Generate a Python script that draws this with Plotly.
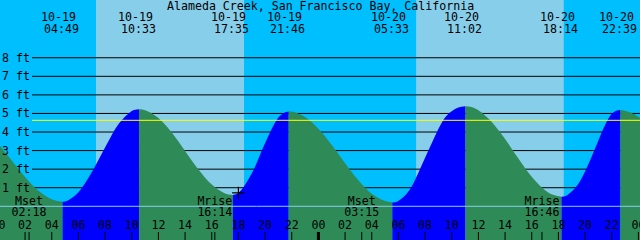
import plotly.graph_objects as go

# ---------------- data ----------------
title_text = "Alameda Creek, San Francisco Bay, California"

# tide curve (hours from 10-19 00:00, feet)
curve_hours = [0, 1, 2, 3, 4, 4.517, 4.817,
               5.117, 6, 7, 8, 9, 10, 10.25, 10.55,
               11, 12, 13, 14, 15, 16, 17, 17.583,
               18, 19, 20, 21, 21.467, 21.767,
               22.1, 23, 24, 25, 26, 27, 28, 29, 29.55,
               29.9, 30.5, 31, 31.5, 32, 32.5, 33, 33.5, 34, 34.5, 35.033,
               35.4, 36, 37, 38, 39, 40, 41, 41.6, 42.233,
               42.55, 43, 43.5, 44, 44.5, 45, 45.5, 46, 46.35, 46.65,
               47, 47.5, 48, 48.5]
curve_feet = [3.37, 2.47, 1.58, 0.84, 0.375, 0.27, 0.25,
              0.28, 0.76, 1.83, 3.16, 4.42, 5.13, 5.20, 5.22,
              5.17, 4.75, 3.97, 2.98, 1.98, 1.17, 0.69, 0.61,
              0.72, 1.77, 3.40, 4.78, 5.05, 5.11,
              5.09, 4.81, 4.18, 3.30, 2.32, 1.40, 0.67, 0.28, 0.21,
              0.25, 0.58, 1.07, 1.80, 2.61, 3.40, 4.16, 4.78, 5.12, 5.32, 5.39,
              5.36, 5.17, 4.54, 3.62, 2.57, 1.59, 0.87, 0.62, 0.52,
              0.56, 0.80, 1.22, 1.88, 2.68, 3.55, 4.38, 4.98, 5.15, 5.19,
              5.15, 5.02, 4.82, 4.55]

# high / low tide events
ext_hours = [4.817, 10.55, 17.583, 21.767, 29.55, 35.033, 42.233, 46.65]
ext_dates = ["10-19", "10-19", "10-19", "10-19", "10-20", "10-20", "10-20", "10-20"]
ext_times = ["04:49", "10:33", "17:35", "21:46", "05:33", "11:02", "18:14", "22:39"]

# moon events
moon_hours = [2.3, 16.233, 27.25, 40.767]
moon_names = ["Mset", "Mrise", "Mset", "Mrise"]
moon_times = ["02:18", "16:14", "03:15", "16:46"]

# sun (daylight intervals)
sunrise_hours = [7.32, 31.33]
sunset_hours = [18.42, 42.40]

# axis labels
ft_levels = [1, 2, 3, 4, 5, 6, 7, 8]
ft_labels = ["1 ft", "2 ft", "3 ft", "4 ft", "5 ft", "6 ft", "7 ft", "8 ft"]
mhhw_ft = 4.63
hour_ticks = list(range(0, 49, 2))
hour_labels = ["%02d" % (h % 24) for h in hour_ticks]
midnight_hours = [24]
now_hour = 18.0
now_ft = 0.72

# ---------------- styling ----------------
NIGHT = "#00BFFF"
DAY = "#87CEEB"
GREEN = "#2E8B57"
BLUE = "#0000FF"
FONT = dict(family="DejaVu Sans Mono", size=11.6, color="black")

X_RANGE = [0.12, 48.12]
Y_RANGE = [-1.815, 11.11]
BASE = -3.0

fig = go.Figure()

# tide fill segments (rising = blue, falling = green)
bounds = [0] + [curve_hours.index(h) for h in ext_hours] + [len(curve_hours) - 1]
for a, b in zip(bounds[:-1], bounds[1:]):
    xs = curve_hours[a:b + 1]
    ys = curve_feet[a:b + 1]
    color = BLUE if ys[-1] > ys[0] else GREEN
    fig.add_trace(go.Scatter(x=[xs[0], xs[-1]], y=[BASE, BASE], mode="lines",
                             line=dict(width=0, color=color), hoverinfo="skip",
                             showlegend=False))
    fig.add_trace(go.Scatter(x=xs, y=ys, mode="lines", fill="tonexty", fillcolor=color,
                             line=dict(width=0, color=color, shape="spline", smoothing=1.0),
                             hoverinfo="skip", showlegend=False))

# bottom tick marks
tx, ty = [], []
for h in hour_ticks + moon_hours:
    tx += [h, h, None]
    ty += [-1.384, BASE, None]
fig.add_trace(go.Scatter(x=tx, y=ty, mode="lines", line=dict(color="black", width=1),
                         hoverinfo="skip", showlegend=False))
mx, my = [], []
for h in midnight_hours:
    mx += [h, h, None]
    my += [-1.384, BASE, None]
fig.add_trace(go.Scatter(x=mx, y=my, mode="lines", line=dict(color="black", width=3),
                         hoverinfo="skip", showlegend=False))

# hour labels
fig.add_trace(go.Scatter(x=hour_ticks, y=[-1.04] * len(hour_ticks), mode="text",
                         text=hour_labels, textfont=FONT, textposition="middle center",
                         hoverinfo="skip", showlegend=False))

# moon labels
fig.add_trace(go.Scatter(x=moon_hours, y=[0.23] * len(moon_hours), mode="text",
                         text=moon_names, textfont=FONT, textposition="middle center",
                         hoverinfo="skip", showlegend=False))
fig.add_trace(go.Scatter(x=moon_hours, y=[-0.36] * len(moon_hours), mode="text",
                         text=moon_times, textfont=FONT, textposition="middle center",
                         hoverinfo="skip", showlegend=False))

# "now" marker
fig.add_trace(go.Scatter(x=[now_hour], y=[now_ft], mode="markers",
                         marker=dict(symbol="cross-thin", size=9,
                                     line=dict(color="black", width=1.2)),
                         hoverinfo="skip", showlegend=False))

shapes = []
for sr, ss in zip(sunrise_hours, sunset_hours):
    shapes.append(dict(type="rect", xref="x", yref="paper", x0=sr, x1=ss, y0=0, y1=1,
                       fillcolor=DAY, line=dict(width=0), layer="below"))
for lv in ft_levels:
    shapes.append(dict(type="line", xref="paper", yref="y", x0=0.05, x1=1, y0=lv, y1=lv,
                       line=dict(color="black", width=1), layer="below"))
shapes.append(dict(type="line", xref="paper", yref="y", x0=0.05, x1=1, y0=mhhw_ft, y1=mhhw_ft,
                   line=dict(color="#FFFF00", width=1), layer="above"))
shapes.append(dict(type="line", xref="paper", yref="y", x0=0, x1=1, y0=0, y1=0,
                   line=dict(color="#87CEEB", width=1), layer="above"))

annotations = []
annotations.append(dict(text=title_text, xref="paper", yref="paper", x=0.5, y=1 - 5.7 / 240,
                        xanchor="center", yanchor="middle", showarrow=False, font=FONT))
for h, d, t in zip(ext_hours, ext_dates, ext_times):
    annotations.append(dict(text=d, xref="x", yref="paper", x=h, y=1 - 16.7 / 240, xshift=-4,
                            xanchor="center", yanchor="middle", showarrow=False, font=FONT))
    annotations.append(dict(text=t, xref="x", yref="paper", x=h, y=1 - 29.3 / 240, xshift=-1,
                            xanchor="center", yanchor="middle", showarrow=False, font=FONT))
for lv, lab in zip(ft_levels, ft_labels):
    annotations.append(dict(text=lab, xref="paper", yref="y", x=0, y=lv, xshift=0,
                            xanchor="left", yanchor="middle", showarrow=False, font=FONT))

fig.update_layout(
    width=640, height=240, margin=dict(l=0, r=0, t=0, b=0),
    paper_bgcolor=NIGHT, plot_bgcolor=NIGHT, showlegend=False,
    xaxis=dict(range=X_RANGE, visible=False, fixedrange=True),
    yaxis=dict(range=Y_RANGE, visible=False, fixedrange=True),
    shapes=shapes, annotations=annotations,
)

fig.write_html("out.html", config={"displayModeBar": False})
